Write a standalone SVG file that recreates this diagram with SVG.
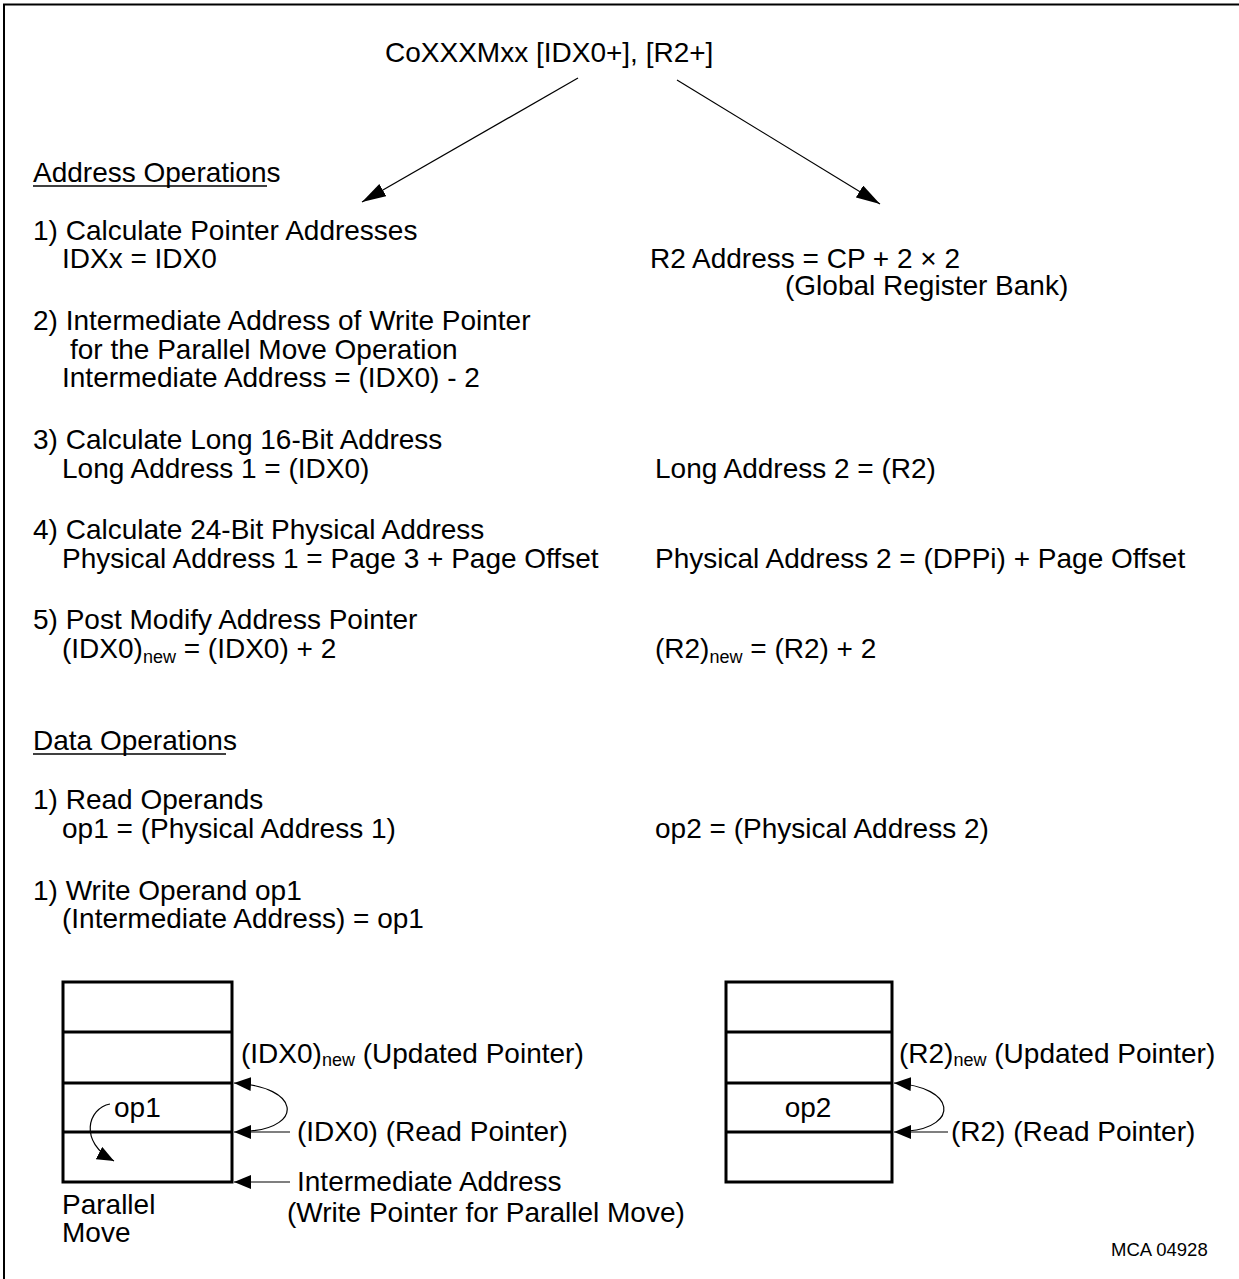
<svg xmlns="http://www.w3.org/2000/svg" width="1239" height="1279" viewBox="0 0 1239 1279">
<style>
text{font-family:"Liberation Sans",Arial,sans-serif;font-size:28px;fill:#000}
.sub{font-size:18px}
.small{font-size:18.5px}
.cell{fill:none;stroke:#000;stroke-width:3}
.con{fill:none;stroke:#000;stroke-width:1.2}
.ul{stroke:#000;stroke-width:1.5}
.frame{stroke:#000;stroke-width:2;fill:none}
</style>
<defs>
<marker id="ah" viewBox="0 0 17 14" refX="17" refY="7" markerWidth="17" markerHeight="14" markerUnits="userSpaceOnUse" orient="auto"><path d="M0,0 L17,7 L0,14 z" fill="#000"/></marker>
<marker id="ahL" viewBox="0 0 24 14" refX="24" refY="7" markerWidth="24" markerHeight="14" markerUnits="userSpaceOnUse" orient="auto"><path d="M0,0 L24,7 L0,14 z" fill="#000"/></marker>
</defs>
<rect width="1239" height="1279" fill="#fff"/>
<path class="frame" d="M4,1279 L4,4.5 L1239,4.5"/>

<g id="title"><text x="385" y="62">CoXXXMxx [IDX0+], [R2+]</text></g>

<g id="address-ops">
<text x="33" y="182">Address Operations</text>
<line class="ul" x1="33" y1="186" x2="267" y2="186"/>
<text x="33" y="240">1) Calculate Pointer Addresses</text>
<text x="62" y="268">IDXx = IDX0</text>
<text x="650" y="268">R2 Address = CP + 2 × 2</text>
<text x="785" y="295">(Global Register Bank)</text>
<text x="33" y="330">2) Intermediate Address of Write Pointer</text>
<text x="70" y="359">for the Parallel Move Operation</text>
<text x="62" y="387">Intermediate Address = (IDX0) - 2</text>
<text x="33" y="449">3) Calculate Long 16-Bit Address</text>
<text x="62" y="478">Long Address 1 = (IDX0)</text>
<text x="655" y="478">Long Address 2 = (R2)</text>
<text x="33" y="539">4) Calculate 24-Bit Physical Address</text>
<text x="62" y="568">Physical Address 1 = Page 3 + Page Offset</text>
<text x="655" y="568">Physical Address 2 = (DPPi) + Page Offset</text>
<text x="33" y="629">5) Post Modify Address Pointer</text>
<text x="62" y="658">(IDX0)<tspan class="sub" dy="5">new</tspan><tspan dy="-5"> = (IDX0) + 2</tspan></text>
<text x="655" y="658">(R2)<tspan class="sub" dy="5">new</tspan><tspan dy="-5"> = (R2) + 2</tspan></text>
</g>

<g id="data-ops">
<text x="33" y="750">Data Operations</text>
<line class="ul" x1="33" y1="754" x2="226" y2="754"/>
<text x="33" y="809">1) Read Operands</text>
<text x="62" y="838">op1 = (Physical Address 1)</text>
<text x="655" y="838">op2 = (Physical Address 2)</text>
<text x="33" y="900">1) Write Operand op1</text>
<text x="62" y="928">(Intermediate Address) = op1</text>
</g>

<g id="memory-left">
<rect class="cell" x="63" y="982" width="169" height="200"/>
<line class="cell" x1="63" y1="1032" x2="232" y2="1032"/>
<line class="cell" x1="63" y1="1083" x2="232" y2="1083"/>
<line class="cell" x1="63" y1="1132" x2="232" y2="1132"/>
<text x="114" y="1117">op1</text>
<text x="62" y="1214">Parallel</text>
<text x="62" y="1242">Move</text>
<text x="241" y="1063">(IDX0)<tspan class="sub" dy="3">new</tspan><tspan dy="-3"> (Updated Pointer)</tspan></text>
<text x="297" y="1141">(IDX0) (Read Pointer)</text>
<text x="297" y="1191">Intermediate Address</text>
<text x="287" y="1222">(Write Pointer for Parallel Move)</text>
</g>

<g id="memory-right">
<rect class="cell" x="726" y="982" width="166" height="200"/>
<line class="cell" x1="726" y1="1032" x2="892" y2="1032"/>
<line class="cell" x1="726" y1="1083" x2="892" y2="1083"/>
<line class="cell" x1="726" y1="1132" x2="892" y2="1132"/>
<text x="808" y="1117" text-anchor="middle">op2</text>
<text x="899" y="1063">(R2)<tspan class="sub" dy="3">new</tspan><tspan dy="-3"> (Updated Pointer)</tspan></text>
<text x="951" y="1141">(R2) (Read Pointer)</text>
</g>

<g id="label"><text class="small" x="1111" y="1256">MCA 04928</text></g>

<g id="connectors">
<line class="con" x1="578" y1="78" x2="362" y2="202" marker-end="url(#ahL)"/>
<line class="con" x1="677" y1="80" x2="880" y2="204" marker-end="url(#ahL)"/>
<path class="con" d="M250,1131 C302,1127 302,1087 234,1083" marker-end="url(#ah)"/>
<line class="con" x1="290" y1="1132" x2="234" y2="1132" marker-end="url(#ah)"/>
<line class="con" x1="290" y1="1182" x2="234" y2="1182" marker-end="url(#ah)"/>
<path class="con" d="M110,1104 C88,1108 78,1142 114,1161" marker-end="url(#ah)"/>
<path class="con" d="M908,1131 C958,1127 958,1087 894,1083" marker-end="url(#ah)"/>
<line class="con" x1="948" y1="1132" x2="894" y2="1132" marker-end="url(#ah)"/>
</g>
</svg>
